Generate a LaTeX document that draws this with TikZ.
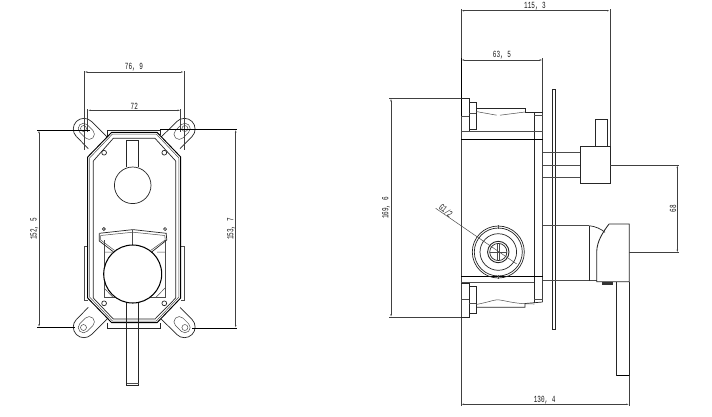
\documentclass[tikz,border=0pt]{standalone}
\usepackage{fontspec}
\setmainfont[FakeStretch=0.64]{Liberation Mono}
\usetikzlibrary{arrows.meta}
\tikzset{
 part/.style={draw=black!85,line width=0.7pt,line join=miter},
 heavy/.style={draw=black,line width=0.95pt},
 thin part/.style={draw=black!70,line width=0.5pt},
 extline/.style={draw=black!75,line width=0.6pt},
 dimline/.style={draw=black!75,line width=0.55pt,{Latex[length=3pt,width=1.5pt]}-{Latex[length=3pt,width=1.5pt]}},
 dimtext/.style={font=\fontsize{9.4}{10}\selectfont,inner sep=0pt,text=black!90},
}
\begin{document}
\begin{tikzpicture}[x=1pt,y=-1pt]
\useasboundingbox (0,0) rectangle (712,416);
\fill[white] (0,0) rectangle (712,416);
% ---------- front view
\foreach \sx/\sy in {1/1,-1/1,1/-1,-1/-1}{
\begin{scope}[shift={(134.2,228)},xscale=\sx,yscale=\sy]
 \draw[part] (-57.8,-91.4) arc[start angle=135,end angle=315,radius=10.7] -- (-27.1,-91.1);
 \draw[part] (-57.8,-91.4) -- (-45.9,-79.4);
 \draw[thin part] (-50.7,-99.5) ++(135:5.3) arc[start angle=135,end angle=315,radius=5.3] -- ++(5.66,5.66)
   arc[start angle=-45,end angle=135,radius=5.3] -- cycle;
 \draw[thin part] (-50.7,-99.5) circle[radius=3];
 \draw[part] (30.1,-75.3) circle[radius=2.4];
\end{scope}}
\draw[thin part] (88,246.7) -- (84.3,246.7) -- (84.3,300) -- (88,300);
\draw[thin part] (180.5,246.7) -- (184.1,246.7) -- (184.1,300) -- (180.5,300);
\draw[part] (107.7,136) -- (107.7,130) -- (160.7,130) -- (160.7,135);
\draw[part] (107.7,322.7) -- (107.7,328) -- (160.7,328) -- (160.7,322.7);
% body octagons
\draw[heavy] (87.7,157) -- (111.7,132.3) -- (157,132.3) -- (180.7,157) -- (180.7,298) -- (157,322.7) -- (111.7,322.7) -- (87.7,298) -- cycle;
\draw[thin part] (89.6,158) -- (112.5,134) -- (156.2,134) -- (178.9,158) -- (178.9,297) -- (156.2,321) -- (112.5,321) -- (89.6,297) -- cycle;
\draw[part] (93.3,161) -- (113.3,138.3) -- (155,138.3) -- (175.7,161) -- (175.7,298) -- (155,319) -- (113.3,319) -- (93.3,298) -- cycle;
% upper knob
\draw[part] (126.7,167) -- (126.7,140.7) -- (138.7,140.7) -- (138.7,167);
\draw[part] (132.7,185.3) circle[radius=18.3];
% lower block
\draw[thin part] (104,240) -- (104,297.3) -- (165,297.3) -- (165,240);
\draw[thin part] (104,252) -- (112,252) (157,252) -- (165,252) (104,288) -- (113,297.3) (165,288) -- (156,297.3);
\draw[part] (99.3,233.3) -- (133,229.6) -- (166.2,233.3) -- (166.8,240) -- (152,251.7);
\draw[thin part] (100.6,235.5) -- (133,232.2) -- (164.8,235.5) -- (165.2,240) -- (150.6,250.5);
\draw[part] (99.3,233.3) -- (99.3,241) -- (113.3,251.7);
\draw[thin part] (100.6,235.5) -- (100.6,240) -- (114.6,250.5);
\draw[thin part] (132.7,230) -- (132.7,245);
\draw[part] (103.8,229) circle[radius=1.5] (165,229) circle[radius=1.5];
% lever
\draw[part] (126.7,302) -- (126.7,385.7) -- (138.7,385.7) -- (138.7,302);
\draw[thin part] (126.7,383.5) -- (138.7,383.5);
\draw[draw=black,line width=1.05pt,fill=white] (132.7,274) circle[radius=29];
% dimensions front
\draw[extline] (84.3,71) -- (84.3,150) (184,71) -- (184,150);
\draw[extline] (87.7,109) -- (87.7,132) (180.7,109) -- (180.7,132);
\draw[dimline] (84.3,72) -- (184,72);
\draw[dimline] (87.7,110.3) -- (180.7,110.3);
\node[dimtext] (d769) at (134,67) {76, 9};
\node[dimtext] (d72) at (134.3,106.5) {72};
\draw[line width=0.75pt] (37.3,130) -- (90,130) (160,129.5) -- (237.3,129.5);
\draw[line width=0.75pt] (37.3,327.3) -- (75,327.3) (192,328) -- (237.3,328);
\draw[dimline] (39,130) -- (39,327.3);
\draw[dimline] (235.7,129.5) -- (235.7,328);
\node[dimtext,rotate=90] (d1525) at (34.3,229) {152, 5};
\node[dimtext,rotate=90] (d1537) at (231,229) {153, 7};
% ---------- side view
\draw[extline] (461,9) -- (461,406);
\draw[extline] (610,9) -- (610,147);
\draw[heavy] (461,58) -- (461,117);
\draw[extline] (542.7,58) -- (542.7,302);
\draw[part] (534.3,112) -- (534.3,303.3);
\draw[dimline] (461,10.7) -- (610,10.7);
\draw[dimline] (461,60) -- (542.7,60);
\node[dimtext] (d1153) at (535,6) {115, 3};
\node[dimtext] (d635) at (502,55) {63, 5};
% plate
\draw[part] (552.3,89.3) rectangle (555,329.3);
% upper flange
\draw[part] (461,98.3) -- (469.3,98.3) -- (469.3,131.7) -- (461,131.7);
\draw[thin part] (461,116.7) -- (469.3,116.7);
\draw[part] (469.3,102.7) -- (476,102.7) -- (476,129) -- (469.3,129);
\draw[thin part] (469.3,113.3) -- (476,113.3);
\draw[part] (476,108.3) -- (525,108.3) -- (525,112) -- (542.7,112);
\draw[thin part] (476,111.5) -- (496.7,115.2) (500,115.2) -- (525,112);
\draw[thin part] (534.3,115.5) -- (542.7,115.5);
\draw[thin part] (461,131.7) -- (542.7,131.7);
\draw[line width=0.85pt] (461,139.3) -- (542.7,139.3);
% lower flange
\draw[part] (461,283.3) -- (469.3,283.3) -- (469.3,317.3) -- (461,317.3);
\draw[thin part] (461,299) -- (469.3,299);
\draw[part] (469.3,286.7) -- (476,286.7) -- (476,313.3) -- (469.3,313.3);
\draw[thin part] (469.3,303) -- (476,303);
\draw[part] (476,307.3) -- (525,307.3) -- (525,303.5) -- (542.7,302);
\draw[thin part] (476,304.5) .. controls (490,302) and (495,299) .. (500,300) .. controls (507,301) and (515,304) .. (534.3,304);
\draw[line width=0.85pt] (461,276) -- (542.7,276);
\draw[thin part] (461,282.7) -- (534.3,282.7);
\draw[thin part] (534.3,299) -- (542.7,299);
% upper fitting
\draw[thin part] (542.7,152.7) -- (580,152.7) (542.7,165) -- (580,165) (542.7,177) -- (580,177);
\draw[part,line width=0.85pt] (580,146.7) rectangle (610,183.3);
\draw[part,line width=0.85pt] (595.7,146.7) -- (595.7,119.3) -- (607.3,119.3) -- (607.3,146.7);
% lower fitting
\draw[thin part] (542.7,225.7) -- (589.3,225.7) (542.7,280) -- (596.7,280);
\draw[part] (589.3,225.7) -- (589.3,280.7);
\draw[part] (589.3,225.7) .. controls (596,226.5) and (601,229) .. (605,232.3);
\draw[part,line width=0.85pt] (609,224) -- (629.3,224) -- (629.3,281.7) -- (596.7,281.7) -- (596.7,251.7) .. controls (597,241) and (603,232) .. (609,224);
\fill[black!80] (602.3,281.7) rectangle (612.7,284.7);
\draw[part,line width=0.85pt] (616.7,281.7) -- (616.7,375.7) -- (629.3,375.7) -- (629.3,281.7);
\draw[line width=1.05pt] (616.7,375.7) -- (629.3,375.7);
% port
\draw[part] (498.3,252) circle[radius=26] circle[radius=24] circle[radius=18.3];
\draw[part,line width=0.9pt] (498.3,252) circle[radius=10.7];
\draw[part] (498.3,252) circle[radius=8.6];
\draw[thin part] (497.3,243.5) -- (497.3,260.5) (499.3,243.5) -- (499.3,260.5) (489.7,252) -- (506.9,252);
\draw[thin part] (498.3,225) -- (498.3,229) (498.3,275) -- (498.3,279);
\draw[thin part] (435.7,208.3) -- (516.7,264);
\node[dimtext,rotate=-40] (g12) at (446,210.7) {G1/2};
% side dimensions
\draw[extline] (389.3,98.3) -- (461,98.3) (389.3,317.3) -- (461,317.3);
\draw[dimline] (391,98.3) -- (391,317.3);
\node[dimtext,rotate=90] (d1696) at (386,208) {169, 6};
\draw[extline] (610,165) -- (679.3,165) (629.3,252.7) -- (679.3,252.7);
\draw[dimline] (677.3,165) -- (677.3,252.7);
\node[dimtext,rotate=90] (d68) at (673,208.5) {68};
\draw[extline] (629.3,376) -- (629.3,406);
\draw[dimline] (461,404.3) -- (629.3,404.3);
\node[dimtext] (d1304) at (544.7,400) {130, 4};
\end{tikzpicture}
\end{document}
